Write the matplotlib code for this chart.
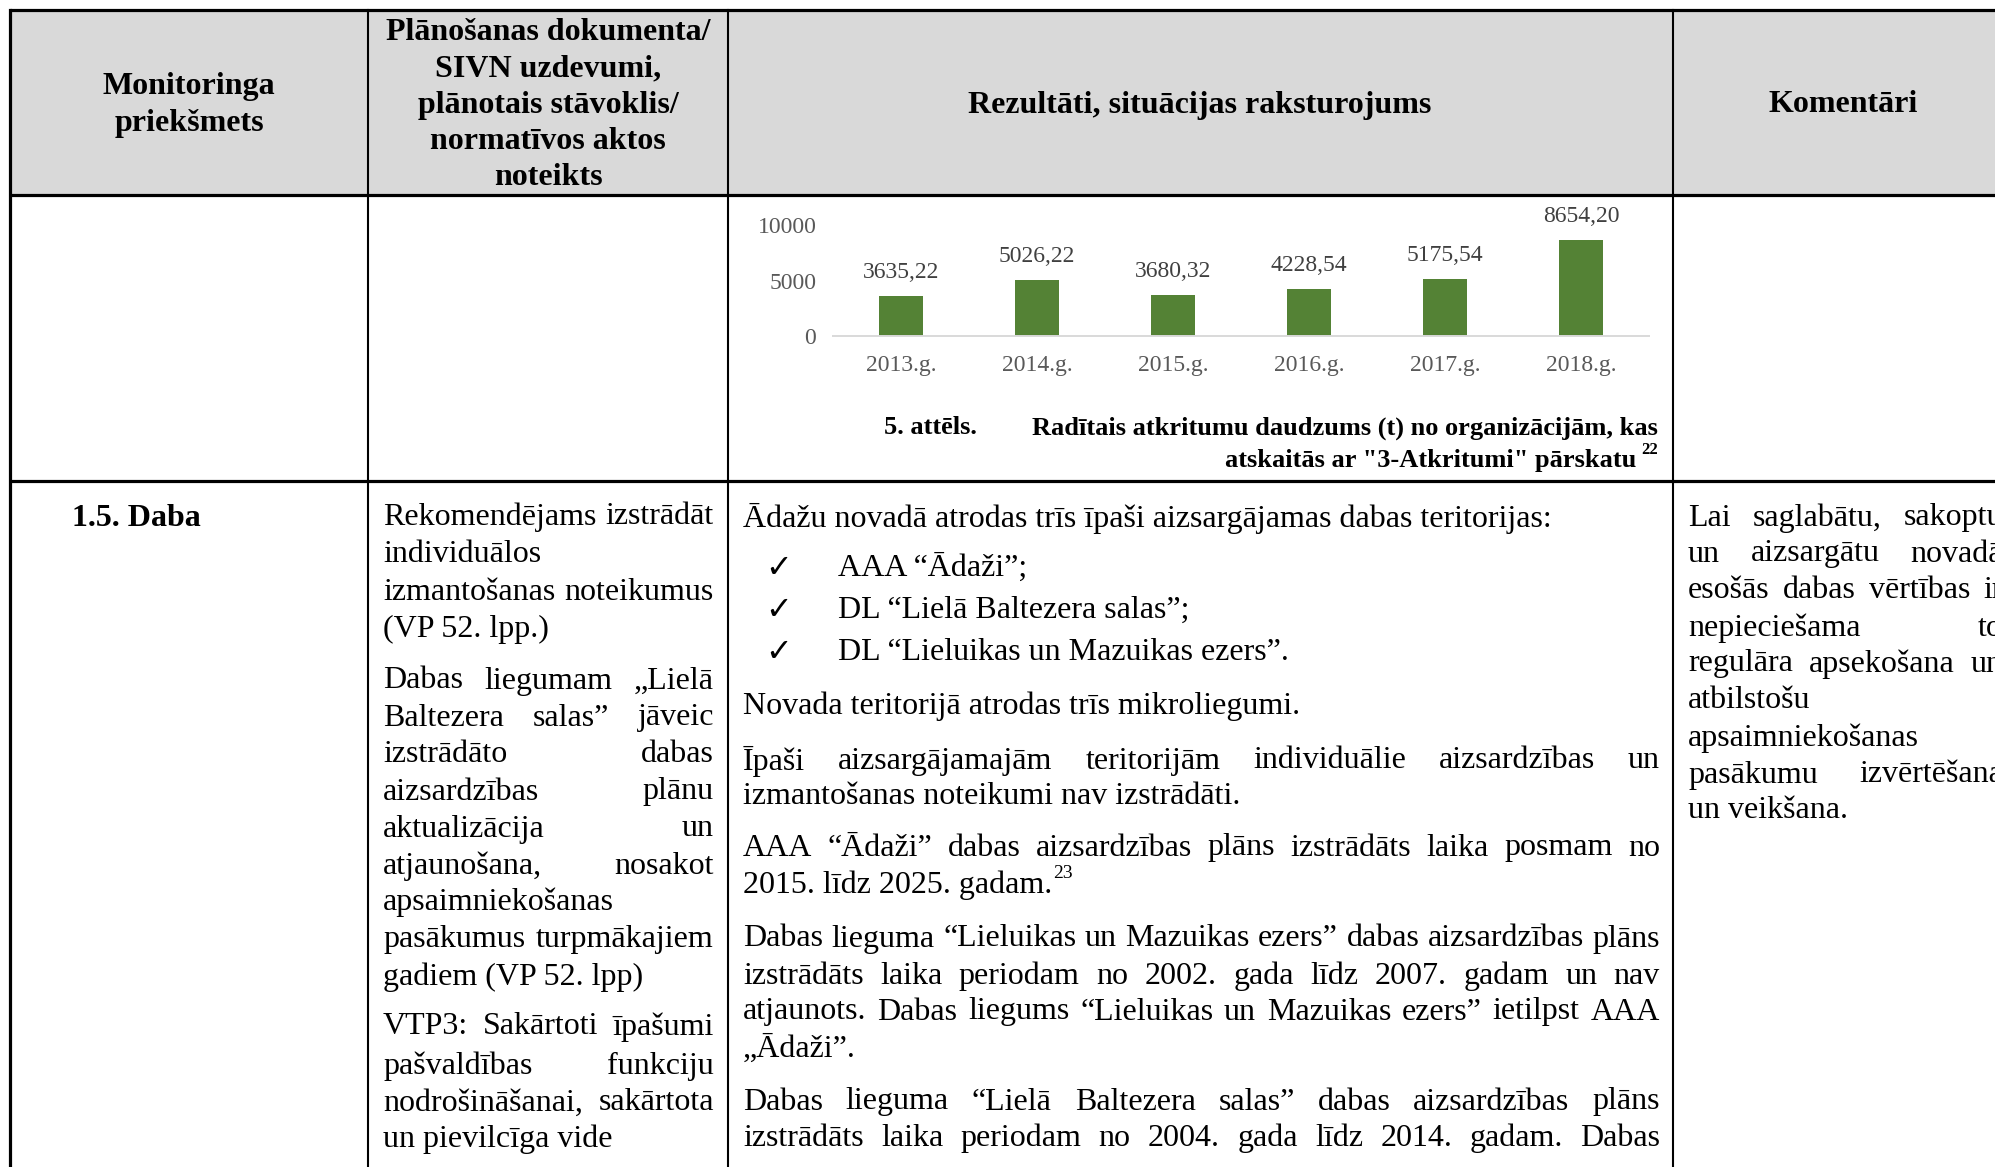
import matplotlib
matplotlib.use("Agg")
import matplotlib.pyplot as plt

# chart data
years = ["2013.g.", "2014.g.", "2015.g.", "2016.g.", "2017.g.", "2018.g."]
waste_t = [3635.22, 5026.22, 3680.32, 4228.54, 5175.54, 8654.20]
y_ticks = [0, 5000, 10000]

# table text
head_cols = ["Monitoringa\npriekšmets",
             "Plānošanas dokumenta/\nSIVN uzdevumi,\nplānotais stāvoklis/\nnormatīvos aktos\nnoteikts",
             "Rezultāti, situācijas raksturojums",
             "Komentāri"]

col2_lines = [
    ("Rekomendējams izstrādāt", 517, True),
    ("individuālos", 555, False),
    ("izmantošanas noteikumus", 592, True),
    ("(VP 52. lpp.)", 629, False),
    ("Dabas liegumam „Lielā", 681, True),
    ("Baltezera salas” jāveic", 718, True),
    ("izstrādāto dabas", 755, True),
    ("aizsardzības plānu", 792, True),
    ("aktualizācija un", 829, True),
    ("atjaunošana, nosakot", 866, True),
    ("apsaimniekošanas", 902, False),
    ("pasākumus turpmākajiem", 940, True),
    ("gadiem (VP 52. lpp)", 977, False),
    ("VTP3: Sakārtoti īpašumi", 1027, True),
    ("pašvaldības funkciju", 1066, True),
    ("nodrošināšanai, sakārtota", 1103, True),
    ("un pievilcīga vide", 1139, False),
]

col3_lines = [
    ("Ādažu novadā atrodas trīs īpaši aizsargājamas dabas teritorijas:", 518, False),
    ("Novada teritorijā atrodas trīs mikroliegumi.", 706, False),
    ("Īpaši aizsargājamajām teritorijām individuālie aizsardzības un", 761, True),
    ("izmantošanas noteikumi nav izstrādāti.", 797, False),
    ("AAA “Ādaži” dabas aizsardzības plāns izstrādāts laika posmam no", 848, True),
    ("Dabas lieguma “Lieluikas un Mazuikas ezers” dabas aizsardzības plāns", 939, True),
    ("izstrādāts laika periodam no 2002. gada līdz 2007. gadam un nav", 976, True),
    ("atjaunots. Dabas liegums “Lieluikas un Mazuikas ezers” ietilpst AAA", 1012, True),
    ("„Ādaži”.", 1049, False),
    ("Dabas lieguma “Lielā Baltezera salas” dabas aizsardzības plāns", 1102, True),
    ("izstrādāts laika periodam no 2004. gada līdz 2014. gadam. Dabas", 1138, True),
]
bullets = [("AAA “Ādaži”;", 568), ("DL “Lielā Baltezera salas”;", 610),
           ("DL “Lieluikas un Mazuikas ezers”.", 652)]

col4_lines = [
    ("Lai saglabātu, sakoptu", 518, True),
    ("un aizsargātu novadā", 554, True),
    ("esošās dabas vērtības ir", 591, True),
    ("nepieciešama to", 628, True),
    ("regulāra apsekošana un", 664, True),
    ("atbilstošu", 701, False),
    ("apsaimniekošanas", 738, False),
    ("pasākumu izvērtēšana", 775, True),
    ("un veikšana.", 811, False),
]

W, H = 1995, 1167
serif = ["Liberation Serif", "DejaVu Serif"]
body_fs = 23
fig = plt.figure(figsize=(W / 100, H / 100), dpi=100)
bg = fig.add_axes([0, 0, 1, 1])
bg.set_xlim(0, W)
bg.set_ylim(H, 0)
bg.axis("off")
renderer = fig.canvas.get_renderer()

# header background and grid
bg.fill_between([10, W], 10, 195, color="#d9d9d9", lw=0)
for y in [10, 195, 481]:
    bg.plot([10, W], [y, y], color="black", lw=2.3, solid_capstyle="butt")
bg.plot([10, 10], [10, H], color="black", lw=2.3)
for x in [368, 728, 1673]:
    bg.plot([x, x], [10, H], color="black", lw=1.5)


def word_width(w, **kw):
    t = bg.text(0, 0, w, **kw)
    bb = t.get_window_extent(renderer)
    t.remove()
    return bb.width


def put_line(s, x0, x1, y, justify, **kw):
    if not justify or " " not in s:
        t = bg.text(x0, y, s, ha="left", va="center", **kw)
        return x0 + t.get_window_extent(renderer).width
    words = s.split()
    widths = [word_width(w, **kw) for w in words]
    gap = (x1 - x0 - sum(widths)) / (len(words) - 1)
    x = x0
    for w, wd in zip(words, widths):
        bg.text(x, y, w, ha="left", va="center", **kw)
        x += wd + gap
    return x1


# header texts
centers = [189, 548, 1200, 1843]
for cx, label in zip(centers, head_cols):
    bg.text(cx, 105, label, ha="center", va="center", fontsize=body_fs,
            fontweight="bold", family=serif, linespacing=1.32)

# row texts
bg.text(72, 519, "1.5. Daba", ha="left", va="center", fontsize=body_fs,
        fontweight="bold", family=serif)
for s, y, j in col2_lines:
    put_line(s, 383, 714, y, j, fontsize=body_fs, family=serif)
for s, y, j in col3_lines:
    put_line(s, 743, 1660, y, j, fontsize=body_fs, family=serif)
for s, y in bullets:
    bg.text(779, y, "✓", ha="center", va="center", fontsize=body_fs,
            family=["DejaVu Sans"])
    bg.text(838, y, s, ha="left", va="center", fontsize=body_fs, family=serif)
end = put_line("2015. līdz 2025. gadam.", 743, 1660, 885, False,
               fontsize=body_fs, family=serif)
bg.text(end + 1, 874, "23", ha="left", va="center", fontsize=14, family=serif)
for s, y, j in col4_lines:
    put_line(s, 1688, 2003, y, j, fontsize=body_fs, family=serif)

# caption
cap_fs = 19
bg.text(884, 428, "5. attēls.", ha="left", va="center", fontsize=cap_fs,
        fontweight="bold", family=serif)
bg.text(1658, 428, "Radītais atkritumu daudzums (t) no organizācijām, kas",
        ha="right", va="center", fontsize=cap_fs, fontweight="bold", family=serif)
bg.text(1636, 460, "atskaitās ar \"3-Atkritumi\" pārskatu", ha="right",
        va="center", fontsize=cap_fs, fontweight="bold", family=serif)
bg.text(1641, 450, "22", ha="left", va="center", fontsize=12,
        fontweight="bold", family=serif)

# bar chart
x0, x1, y0 = 833, 1649, 336
px_per_unit = 55.4 / 5000
ax = fig.add_axes([x0 / W, 1 - y0 / H, (x1 - x0) / W, 10000 * px_per_unit / H])
ax.patch.set_alpha(0)
pos = range(len(years))
bars = ax.bar(pos, waste_t, width=0.32, color="#548235")
ax.set_xlim(-0.5, len(years) - 0.5)
ax.set_ylim(0, 10000)
for sp in ["top", "right", "left"]:
    ax.spines[sp].set_visible(False)
ax.spines["bottom"].set_color("#d9d9d9")
ax.spines["bottom"].set_linewidth(1.4)
ax.set_yticks(y_ticks)
ax.set_yticklabels([str(v) for v in y_ticks])
ax.set_xticks(list(pos))
ax.set_xticklabels(years)
ax.tick_params(length=0, labelsize=17, labelcolor="#595959")
ax.tick_params(axis="x", pad=14)
ax.tick_params(axis="y", pad=12)
for lab in ax.get_xticklabels() + ax.get_yticklabels():
    lab.set_family(serif)
for b, v in zip(bars, waste_t):
    ax.annotate(f"{v:.2f}".replace(".", ","), (b.get_x() + b.get_width() / 2, v),
                xytext=(0, 17), textcoords="offset points", ha="center",
                va="center", fontsize=17, color="#404040", family=serif,
                annotation_clip=False)

fig.savefig("out.png", dpi=100)
